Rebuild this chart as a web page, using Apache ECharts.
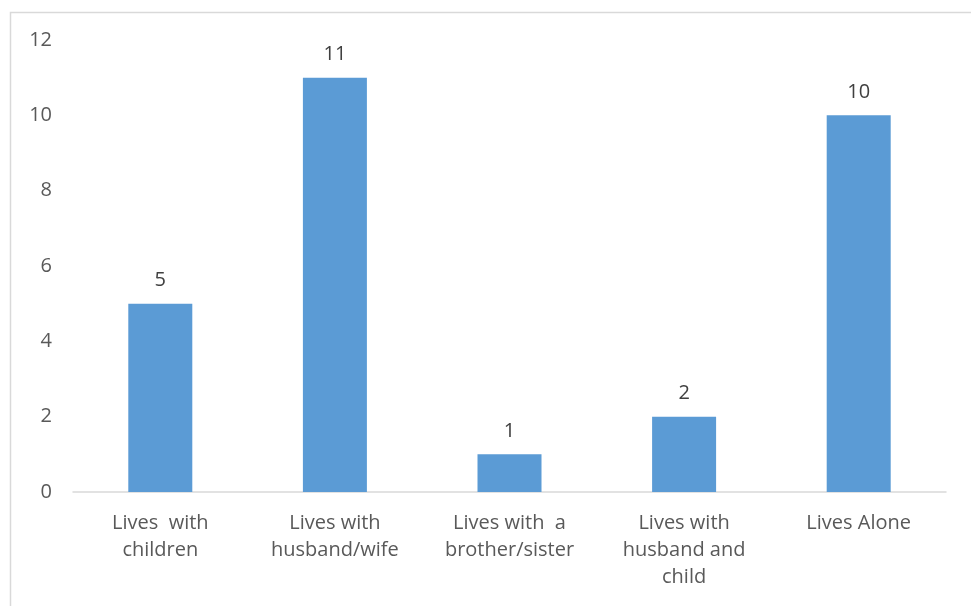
<!DOCTYPE html>
<html><head><meta charset="utf-8">
<script src="https://cdn.jsdelivr.net/npm/echarts@6/dist/echarts.min.js"></script>
<style>html,body{margin:0;padding:0;background:#fff}#c{width:971px;height:606px}</style>
</head><body><div id="c"></div>
<script>
const categories = ['Lives  with\nchildren', 'Lives with\nhusband/wife', 'Lives with  a\nbrother/sister', 'Lives with\nhusband and\nchild', 'Lives Alone'];
const values = [5, 11, 1, 2, 10];
const yTicks = [0, 2, 4, 6, 8, 10, 12];

const chart = echarts.init(document.getElementById('c'));
chart.setOption({
  animation: false,
  graphic: [{
    type: 'rect', left: 8, top: 10, shape: { width: 980, height: 620 },
    style: { fill: 'none', stroke: '#d9d9d9', lineWidth: 1.5 }, silent: true, z: -1
  }],
  grid: { left: 73, right: 25, top: 40, bottom: 114 },
  xAxis: {
    type: 'category', data: categories,
    axisLine: { lineStyle: { color: '#d9d9d9', width: 1.5 } },
    axisTick: { show: false },
    axisLabel: { color: '#595959', fontFamily: 'Open Sans', fontSize: 20, lineHeight: 27, margin: 18, interval: 0 }
  },
  yAxis: {
    type: 'value', min: yTicks[0], max: yTicks[yTicks.length - 1], interval: 2,
    axisLine: { show: false }, axisTick: { show: false }, splitLine: { show: false },
    axisLabel: { color: '#595959', fontFamily: 'Open Sans', fontSize: 20, margin: 21 }
  },
  series: [{
    type: 'bar', data: values, barWidth: 64,
    itemStyle: { color: '#5b9bd5' },
    label: { show: true, position: 'top', distance: 13, color: '#404040', fontFamily: 'Open Sans', fontSize: 20 }
  }]
});
</script></body></html>
